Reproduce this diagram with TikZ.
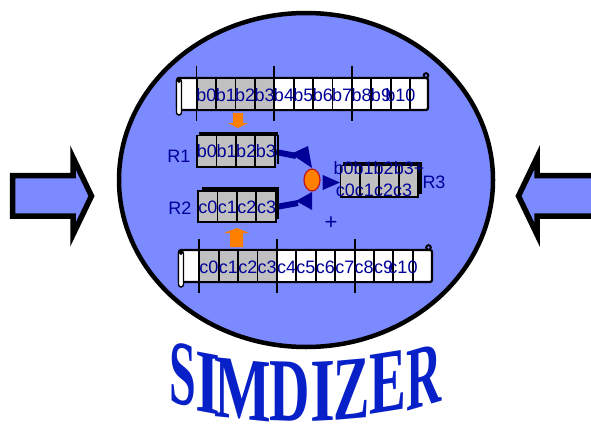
\documentclass[tikz,border=0pt]{standalone}
\usepackage{fontspec}
\usetikzlibrary{shapes.geometric}
\setmainfont{Liberation Sans}
\newfontfamily\titlefont{Liberation Serif}[BoldFont={Liberation Serif Bold}]
\definecolor{disc}{RGB}{124,138,255}
\definecolor{ink}{RGB}{0,0,153}
\definecolor{cellgrey}{RGB}{192,192,192}
\definecolor{orng}{RGB}{255,128,0}
\definecolor{title}{RGB}{8,32,200}
\tikzset{
  bigarrow/.style={draw=black,line width=5.5pt,fill=disc,miter limit=10},
  cellbox/.style={draw=black,line width=1.8pt},
  label/.style={text=ink,inner sep=0pt,font=\fontsize{18}{20}\selectfont},
  shadowbar/.style={fill=black,draw=none},
  scrollbody/.style={draw=black,line width=2.2pt,fill=white,rounded corners=2pt},
  tick/.style={draw=black,line width=1.6pt},
  flow/.style={draw=ink,line width=6pt},
  head/.style={fill=ink,draw=none},
  feed/.style={fill=orng,draw=none},
}
% \rowcells{x0}{ytop}{ybot}{count of grey}{count}
\newcommand{\rowcells}[5]{%
  \foreach \k in {1,...,#5}{
    \pgfmathsetmacro{\xa}{#1+(\k-1)*19.4}
    \pgfmathsetmacro{\xb}{#1+\k*19.4}
    \pgfmathtruncatemacro{\isg}{\k<=#4 ? 1 : 0}
    \ifnum\isg=1
      \draw[cellbox,fill=cellgrey] (\xa,#2) rectangle (\xb,#3);
    \else
      \draw[cellbox,fill=white] (\xa,#2) rectangle (\xb,#3);
    \fi
  }%
}
% \rowtext{prefix}{x0}{y}{last}
\newcommand{\rowtext}[4]{%
  \foreach \k in {0,...,#4}{
    \pgfmathsetmacro{\xc}{#2+(\k+0.5)*19.4}
    \node[label] (#1\k) at (\xc,#3) {#1\k};
  }%
}
\newcommand{\lett}[7]{% x y slope xs ys letter name
  \begin{scope}[cm={#4,#3,0,#5,(#1,#2)}]
    \node[transform shape,inner sep=0pt,text=title,font=\titlefont\bfseries\fontsize{40}{40}\selectfont] (#7) at (0,0) {#6};
  \end{scope}%
}
\begin{document}
\begin{tikzpicture}[x=1pt,y=-1pt]
\useasboundingbox (0,0) rectangle (591,423);
\clip (0,0) rectangle (591,423);
% side arrows
\draw[bigarrow] (12.5,175.5) -- (73,175.5) -- (73,157.5) -- (91.5,196) -- (73,234.5) -- (73,216) -- (12.5,216) -- cycle;
\draw[bigarrow] (600,175.5) -- (537,175.5) -- (537,157.5) -- (518.5,196) -- (537,234.5) -- (537,216) -- (600,216) -- cycle;
% disc
\node[draw=black,line width=4.5pt,fill=disc,ellipse,minimum width=374pt,minimum height=334pt,inner sep=0pt] (disc) at (306,180) {};
% top register
\draw[scrollbody] (177,78) rectangle (428,110);
\draw[black,line width=2pt,fill=disc] (426,75.5) circle (2.3);
\rowcells{196.7}{78}{110}{4}{11}
\draw[black,line width=1.4pt,fill=white,rounded corners=2.5pt] (176.5,79) rectangle (181.5,115);
\draw[black,line width=1.2pt] (179,81) circle (1.2);
\foreach \x in {196.3,274,352}{\draw[tick] (\x,66) -- (\x,121);}
\rowtext{b}{196.7}{95}{10}
% bottom register
\draw[scrollbody] (179,250) rectangle (432,282);
\draw[black,line width=2pt,fill=disc] (428.5,247.5) circle (2.3);
\rowcells{199.3}{250}{282}{4}{11}
\draw[black,line width=1.4pt,fill=white,rounded corners=2.5pt] (178.5,251) rectangle (183.5,287);
\draw[black,line width=1.2pt] (181,253) circle (1.2);
\foreach \x in {199,277,355}{\draw[tick] (\x,239) -- (\x,293);}
\rowtext{c}{199.3}{267}{10}
% feeds
\fill[feed] (233,113) -- (243,113) -- (243,123) -- (248,123) -- (238,128) -- (228,123) -- (233,123) -- cycle;
\fill[feed] (230,247) -- (243,247) -- (243,233) -- (249,233) -- (237,228) -- (224,233) -- (230,233) -- cycle;
% flow lines
\coordinate (r1out) at (276,152);
\coordinate (r1bend) at (296,156);
\coordinate (r2out) at (276,207);
\coordinate (r2bend) at (298,203);
\draw[flow] (r1out) -- (r1bend);
\fill[head] (308,146) -- (291,154) -- (312,168) -- cycle;
\draw[flow] (r2out) -- (r2bend);
\fill[head] (312,192) -- (312,210) -- (296,201) -- cycle;
\fill[head] (322.7,175) -- (340,182.5) -- (322.7,190) -- cycle;
% R1
\fill[shadowbar] (199,132) rectangle (278,136);
\fill[shadowbar] (277,135) rectangle (278.5,164);
\rowcells{197}{135.5}{167}{4}{4}
\foreach \k/\t in {0/b0,1/b1,2/b2,3/b3}{
  \pgfmathsetmacro{\xc}{197+(\k+0.5)*19.7}
  \node[label] (r1\k) at (\xc,151.5) {\t};
}
\node[label] (R1) at (179,156) {R1};
% R2
\fill[shadowbar] (202,187) rectangle (279,191);
\fill[shadowbar] (277,190) rectangle (279,219);
\rowcells{198}{191}{222}{4}{4}
\foreach \k/\t in {0/c0,1/c1,2/c2,3/c3}{
  \pgfmathsetmacro{\xc}{198+(\k+0.5)*19.6}
  \node[label] (r2\k) at (\xc,207.5) {\t};
}
\node[label] (R2) at (180,208) {R2};
% R3
\fill[shadowbar] (343,161.5) rectangle (422,166);
\fill[shadowbar] (419,165) rectangle (422,194);
\rowcells{340.5}{165.5}{197}{4}{4}
\node[label] (r3a) at (379,168.5) {b0b1b2b3+};
\node[label] (r3b) at (374,190) {c0c1c2c3};
\node[label] (R3) at (434,182) {R3};
% adder
\node[draw={rgb,255:red,190;green,20;blue,30},line width=1.2pt,fill=orng,ellipse,minimum width=16pt,minimum height=22pt,inner sep=0pt] (adder) at (312,180) {};
\node[label,font=\fontsize{22}{24}\selectfont] (plus) at (331,223) {+};
% title
\lett{183}{374.5}{-0.2}{1.2}{2.3}{S}{t1}
\lett{208}{383}{-0.3}{1.6}{2.25}{I}{t2}
\lett{243}{390}{-0.15}{1.5}{2.25}{M}{t3}
\lett{290}{392}{-0.04}{1.4}{2.25}{D}{t4}
\lett{323}{391}{0.08}{1.6}{2.25}{I}{t5}
\lett{352}{389}{0.12}{1.36}{2.25}{Z}{t6}
\lett{388}{382}{0.22}{1.38}{2.25}{E}{t7}
\lett{424}{377}{0.36}{1.22}{2.25}{R}{t8}
\end{tikzpicture}
\end{document}
